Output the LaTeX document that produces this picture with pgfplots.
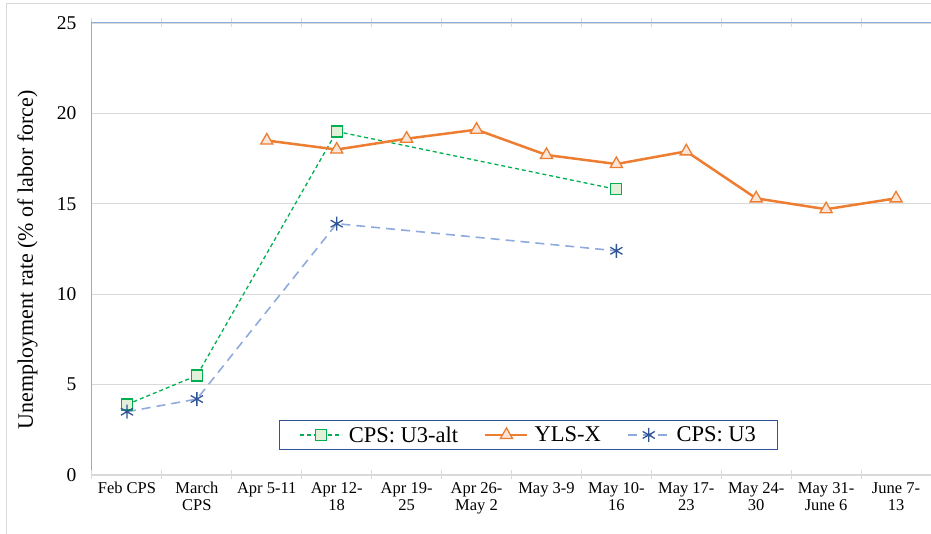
\documentclass[border=0pt]{standalone}
\usepackage{pgfplots}
\pgfplotsset{compat=1.18}
\usepackage{fontspec}
\setmainfont{Liberation Serif}
\definecolor{gridgray}{HTML}{D9D9D9}
\definecolor{axblue}{HTML}{8FAADC}
\definecolor{cgreen}{HTML}{00B050}
\definecolor{cgreenfill}{HTML}{E2F0D9}
\definecolor{corange}{HTML}{ED7D31}
\definecolor{corangefill}{HTML}{FBE5D6}
\definecolor{cblue}{HTML}{8FAADC}
\definecolor{cdblue}{HTML}{2F5597}
\begin{document}
\begin{tikzpicture}
\path[use as bounding box] (-92pt,-59pt) rectangle (839pt,475pt);
\draw[gridgray, line width=1pt] (-85pt,-59pt) -- (-85pt,471pt) -- (839pt,471pt);
\begin{axis}[
  at={(0pt,0pt)}, anchor=south west,
  scale only axis, width=839pt, height=452pt,
  xmin=-0.5, xmax=11.5, ymin=0, ymax=25,
  axis line style={draw=none},
  ytick={0,5,10,15,20,25},
  ymajorgrids, grid style={gridgray, line width=0.8pt},
  major tick length=0pt,
  xtick={0,...,11},
  xticklabels={Feb CPS, March\\CPS, Apr 5-11, Apr 12-\\18, Apr 19-\\25, Apr 26-\\May 2, May 3-9, May 10-\\16, May 17-\\23, May 24-\\30, May 31-\\June 6, June 7-\\13},
  minor xtick={-0.5,0.5,...,11.5},
  minor tick length=9pt,
  minor tick style={gridgray, line width=1pt},
  tick align=center,
  xticklabel style={align=center, font=\fontsize{16.5}{17}\selectfont, yshift=-4pt},
  yticklabel style={font=\fontsize{19.5}{20}\selectfont, xshift=-12pt},
  /pgf/number format/assume math mode=true,
  ylabel={Unemployment rate (\% of labor force)},
  ylabel style={at={(axis description cs:-0.077,0.476)}, anchor=center, rotate=0, font=\fontsize{22}{23}\selectfont},
  legend columns=3,
  legend style={at={(rel axis cs:0.2229,0.0553)}, anchor=south west, draw=cdblue, line width=1pt,
    font=\fontsize{22.5}{24}\selectfont, inner xsep=20pt, inner ysep=4pt,
    /tikz/every even column/.append style={column sep=24pt},
    /tikz/every odd column/.append style={column sep=4pt}},
  legend image code/.code={\draw[mark repeat=2,mark phase=2,#1] plot coordinates {(0pt,0pt) (21pt,0pt) (42pt,0pt)};},
  clip=false,
]
\draw[gridgray, line width=1.2pt] (rel axis cs:0,0) -- (rel axis cs:1,0);
\draw[axblue, line width=1pt] (rel axis cs:0,0.01) -- (rel axis cs:0,1) -- (rel axis cs:1,1);
\addplot[cgreen, line width=1.3pt, dash pattern=on 4pt off 3pt, mark=square*, mark size=5.5pt,
  mark options={solid, fill=cgreenfill, draw=cgreen, line width=1.2pt}]
  coordinates {(0,3.9) (1,5.5) (3,19.0) (7,15.8)};
\addlegendentry{CPS: U3-alt}
\addplot[corange, line width=2.5pt, mark=triangle*, mark size=7pt,
  mark options={solid, fill=corangefill, draw=corange, line width=1.3pt}]
  coordinates {(2,18.5) (3,18.0) (4,18.6) (5,19.1) (6,17.7) (7,17.2) (8,17.9) (9,15.3) (10,14.7) (11,15.3)};
\addlegendentry{YLS-X}
\addplot[cblue, line width=1.6pt, dash pattern=on 9pt off 6pt, mark=asterisk, mark size=7pt,
  mark options={solid, draw=cdblue, line width=1.3pt}]
  coordinates {(0,3.5) (1,4.2) (3,13.9) (7,12.4)};
\addlegendentry{CPS: U3}
\end{axis}
\end{tikzpicture}
\end{document}
